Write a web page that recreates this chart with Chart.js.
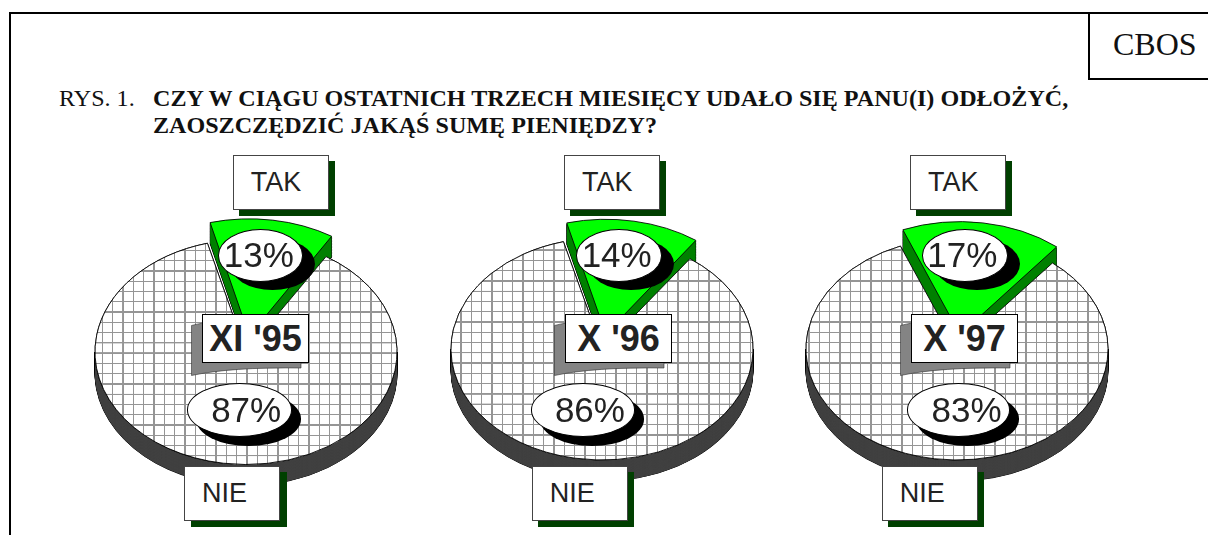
<!DOCTYPE html>
<html lang="pl"><head><meta charset="utf-8">
<script src="https://cdn.jsdelivr.net/npm/chart.js@4"></script>
<style>
html,body{margin:0;padding:0;background:#fff;width:1208px;height:535px;overflow:hidden}
#page{position:relative;width:1208px;height:535px;overflow:hidden}
#page>*{position:absolute;box-sizing:border-box}
canvas{position:absolute}
.line{background:#000}
.serif{font-family:"Liberation Serif",serif;color:#111;white-space:nowrap;line-height:1}
.box{background:#fff;border:1px solid #444;font:27px "Liberation Sans",sans-serif;color:#222;display:flex;align-items:center;padding-left:17px}
.sh{background:#004000}
.period{background:#fff;border:1px solid #000;font:bold 36px "Liberation Sans",sans-serif;color:#222;display:flex;align-items:center;justify-content:center;white-space:nowrap}
.ell{background:#fff;border:1px solid #000;border-radius:50%}
.esh{background:#000;border-radius:50%}
.pct{font:35px "Liberation Sans",sans-serif;color:#222;text-align:center;white-space:nowrap;display:flex;align-items:center;justify-content:center}
</style></head><body><div id="page"></div>
<script>
const periods = ["XI '95", "X '96", "X '97"];
const categories = ["TAK", "NIE"];
const takValues = [13, 14, 17];
const nieValues = [87, 86, 83];
const titlePrefix = "RYS. 1.";
const titleLines = ["CZY W CIĄGU OSTATNICH TRZECH MIESIĘCY UDAŁO SIĘ PANU(I) ODŁOŻYĆ,", "ZAOSZCZĘDZIĆ JAKĄŚ SUMĘ PIENIĘDZY?"];
const sourceLabel = "CBOS";

const layouts = [
 {cx:246.2,cy:351.7,k:0.745,rot:-14.8,off:22,gx:123.3,tak:232.7,nie:184,per:202.3,e1:[218.3,85],e1t:-2,e2:[186.7,105],e2t:7},
 {cx:602,cy:349,k:0.735,rot:-14.8,off:21,gx:481.7,tak:564,nie:531.7,per:565.3,e1:[575.7,86],e1t:-2,e2:[530.7,104.5],e2t:7},
 {cx:957,cy:349,k:0.735,rot:-22,off:20,gx:840,tak:910,nie:881.7,per:911.3,e1:[922.3,86],e1t:-3,e2:[907.3,102.7],e2t:8}
];
const R = 151, DEPTH_PX = 21, SIZE = 340, GRID_W = 10.33, GRID_H = 10.27, GRID_Y = 322;
const page = document.getElementById('page');
function el(cls, x, y, w, h, txt, css){
  const d = document.createElement('div'); d.className = cls;
  d.style.cssText = `left:${x}px;top:${y}px;` + (w!=null?`width:${w}px;`:'') + (h!=null?`height:${h}px;`:'') + (css||'');
  if (txt!=null) d.textContent = txt;
  page.appendChild(d); return d;
}
// frame
el('line',9,12,1199,2); el('line',9,12,2,523); el('line',1088,12,2,68); el('line',1088,78,120,2);
el('serif',1113,28,null,null,sourceLabel,'font-size:32px');
el('serif',59,86,null,null,titlePrefix,'font-size:24.1px');
el('serif',153,86,null,null,titleLines[0],'font-size:24.1px;font-weight:bold');
el('serif',153,113,null,null,titleLines[1],'font-size:24.1px;font-weight:bold');

function hatch(L){
  const T = 103, c = document.createElement('canvas'); c.width = T; c.height = T;
  const x = c.getContext('2d'); x.fillStyle = '#fff'; x.fillRect(0,0,T,T);
  x.fillStyle = '#959595';
  x.fillRect(0,0,13,T); x.fillRect(0,0,T,13);
  const p = document.createElement('canvas').getContext('2d').createPattern(c,'repeat');
  const tx = L.gx - (L.cx - SIZE/2) - 0.65;
  const ty = SIZE/2 + (GRID_Y - L.cy)/L.k - 0.65/L.k;
  p.setTransform(new DOMMatrix().translate(tx,ty).scale(GRID_W/T, GRID_H/L.k/T));
  return p;
}
function layer(arc, ctx, fill, stroke){
  const saved = arc.options;
  const o = Object.create(saved);
  Object.defineProperty(o,'backgroundColor',{value:fill});
  Object.defineProperty(o,'borderColor',{value:stroke||fill});
  Object.defineProperty(o,'borderWidth',{value:stroke?1:0});
  arc.options = o; arc.draw(ctx); arc.options = saved;
}
const pie3d = {
  id:'pie3d',
  beforeDatasetsDraw(chart, args, opts){
    const ctx = chart.ctx, c = SIZE/2, k = opts.k, depth = DEPTH_PX/k;
    ctx.save();
    ctx.translate(c,c); ctx.scale(1,k); ctx.translate(-c,-c);
    const [green, grid] = chart.getDatasetMeta(0).data;
    // grid wedge: only the front half of its side is visible
    ctx.save(); ctx.beginPath(); ctx.rect(-50,c,SIZE+100,SIZE); ctx.clip();
    for(let d=depth;d>=0;d--){ ctx.save(); ctx.translate(0,d); layer(grid,ctx,'#000','#000'); ctx.restore(); }
    for(let d=depth;d>=1;d--){ ctx.save(); ctx.translate(0,d); layer(grid,ctx,'#404040'); ctx.restore(); }
    ctx.restore();
    grid.draw(ctx);
    for(let d=depth;d>=1;d--){ ctx.save(); ctx.translate(0,d); layer(green,ctx,'#008000','#000'); ctx.restore(); }
    for(let d=depth-1;d>=1;d--){ ctx.save(); ctx.translate(0,d); layer(green,ctx,'#008000'); ctx.restore(); }
    // the library draws the top faces after this hook, inside the same squash
  },
  afterDatasetsDraw(chart){ chart.ctx.restore(); }
};

layouts.forEach((L,i)=>{
  const cv = document.createElement('canvas');
  cv.width = SIZE; cv.height = SIZE;
  cv.style.cssText = `left:${L.cx-SIZE/2}px;top:${L.cy-SIZE/2}px;width:${SIZE}px;height:${SIZE}px`;
  page.appendChild(cv);
  new Chart(cv,{
    type:'pie',
    data:{labels:categories,datasets:[{
      data:[takValues[i],nieValues[i]],
      backgroundColor:['#00ff00',hatch(L)],
      borderColor:'#000',borderWidth:1,
      offset:[L.off*4,0],clip:false
    }]},
    options:{responsive:false,animation:false,radius:R,rotation:L.rot,
      layout:{padding:0},
      plugins:{legend:{display:false},tooltip:{enabled:false},pie3d:{k:L.k}}},
    plugins:[pie3d]
  });
  // labels
  el('sh',L.tak+6,160.7,96.3,55.7);
  el('box',L.tak,154.7,96.3,55.7,categories[0]);
  el('sh',L.nie+6.5,472,96.3,55);
  el('box',L.nie,466,96.3,55,categories[1]);
  // ellipse top
  el('esh',L.e1[0]+12,238,L.e1[1],52.4);
  el('ell',L.e1[0],229.3,L.e1[1],52.4);
  el('pct',L.e1[0]+L.e1t,229.3,L.e1[1],52.4,takValues[i]+'%');
  // ellipse bottom
  el('esh',L.e2[0]+9,392.3,L.e2[1],53.4);
  el('ell',L.e2[0],383.3,L.e2[1],53.4);
  el('pct',L.e2[0]+L.e2t,383.3,L.e2[1],53.4,nieValues[i]+'%');
  // period label with its curved grey base
  const svgNS='http://www.w3.org/2000/svg';
  const s=document.createElementNS(svgNS,'svg');
  s.setAttribute('width','125'); s.setAttribute('height','70');
  s.style.cssText=`position:absolute;left:${L.per-11.5}px;top:318px`;
  const p=document.createElementNS(svgNS,'path');
  p.setAttribute('d','M0.5 7.5 Q6 6 12 5 L110 5 L110 50 Q40 49 0.5 57.5 Z');
  p.setAttribute('fill','#848484'); p.setAttribute('stroke','#333'); p.setAttribute('stroke-width','0.6');
  s.appendChild(p); page.appendChild(s);
  el('period',L.per,314,106.3,49.3,periods[i]);
});
</script></body></html>
